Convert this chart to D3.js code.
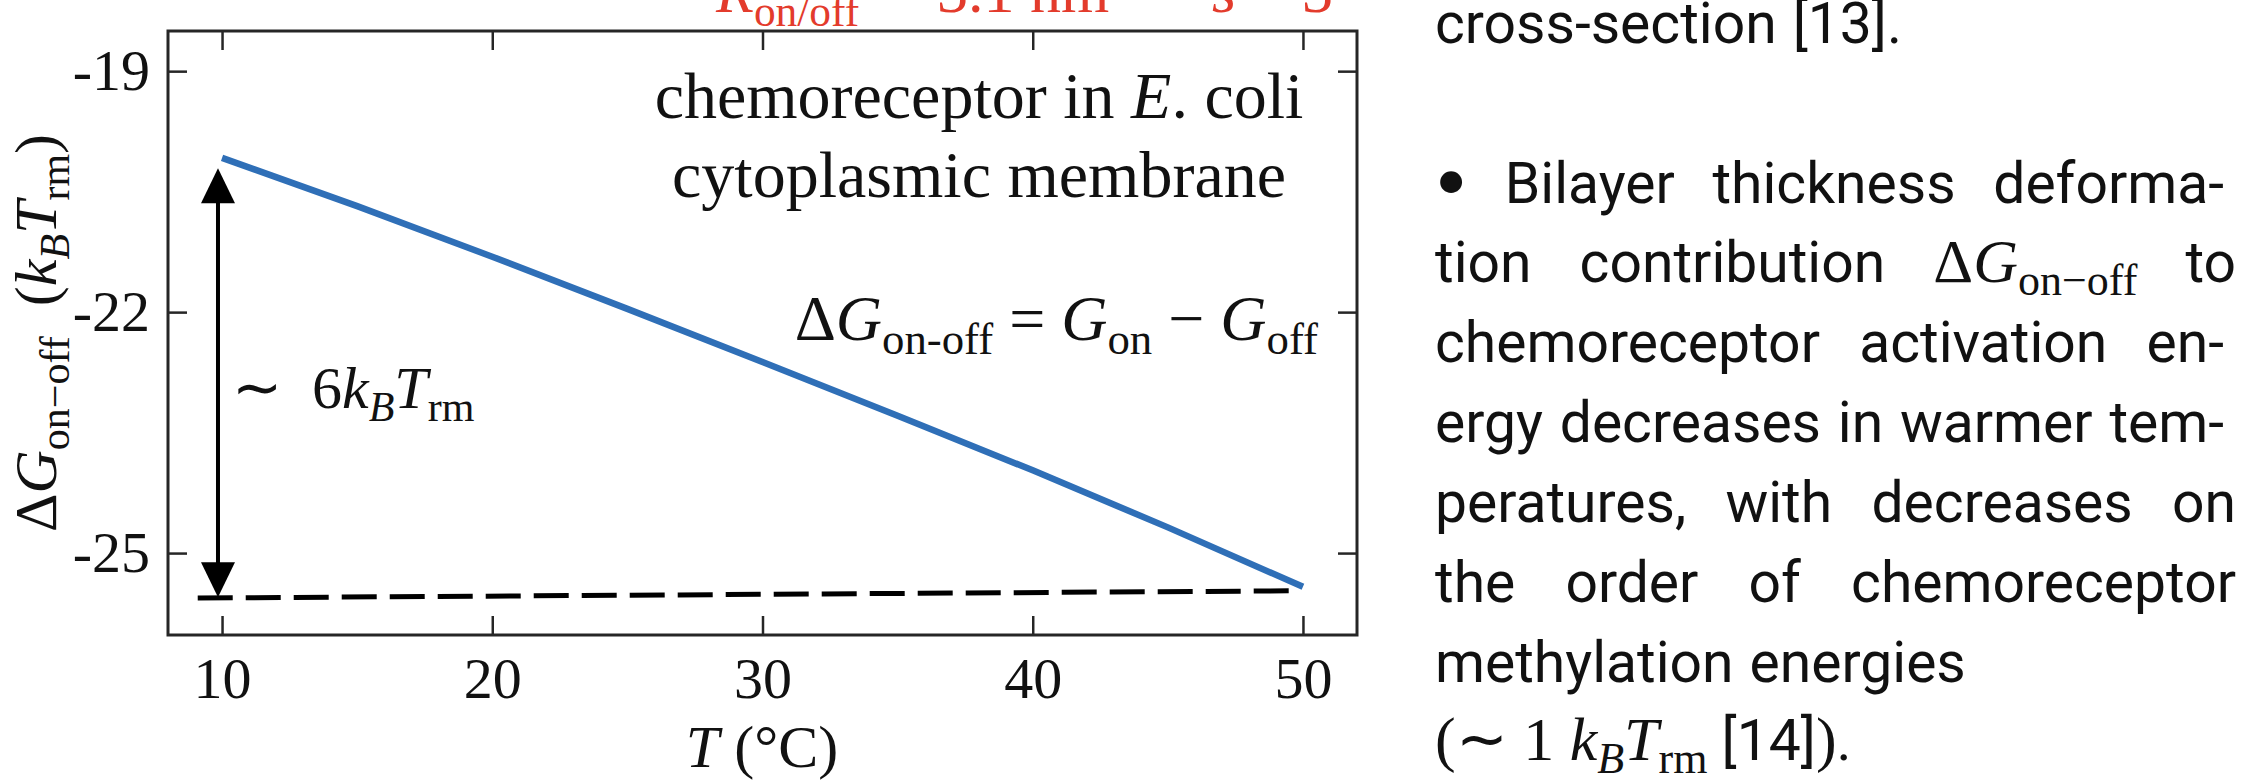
<!DOCTYPE html>
<html>
<head>
<meta charset="utf-8">
<script src="https://cdn.jsdelivr.net/npm/d3@7"></script>
<style>
  html, body { margin: 0; padding: 0; background: #fff; }
  svg { display: block; }
</style>
</head>
<body>
<svg id="fig" width="2250" height="782"></svg>
<script>
// Bilayer thickness deformation energy difference vs temperature
const temperatureC = [10, 15, 20, 25, 30, 35, 40, 45, 50];
const deltaGOnOff  = [-20.08, -20.68, -21.31, -21.96, -22.62, -23.29, -23.97, -24.68, -25.42];

const xTickValues = [10, 20, 30, 40, 50];
const yTickValues = [-19, -22, -25];
const xDomain = [8, 52];
const yDomain = [-26.02, -18.5];

// dashed reference level at the warm end
const referenceT = [9.1, 49.6];
const referenceG = [-25.56, -25.47];

// double arrow marking the total drop
const spanT = 9.85;
const spanG = [-20.21, -25.55];

const serif = "'Liberation Serif', 'Times New Roman', serif";
const sans  = "Roboto, 'Liberation Sans', Arial, sans-serif";
const ink = "#111";
const axisColor = "#262626";

const svg = d3.select("#fig");

const plot = { left: 168, right: 1357, top: 31, bottom: 635 };
const x = d3.scaleLinear().domain(xDomain).range([plot.left, plot.right]);
const y = d3.scaleLinear().domain(yDomain).range([plot.bottom, plot.top]);

// text with italic / subscript pieces
function richText(parent, segs, opts) {
  const size = opts.size;
  const t = parent.append("text")
    .attr("x", opts.x || 0).attr("y", opts.y || 0)
    .attr("text-anchor", opts.anchor || "start")
    .attr("fill", opts.fill || ink)
    .style("font-family", opts.family || serif)
    .style("font-size", size + "px");
  if (opts.transform) t.attr("transform", opts.transform);
  let shift = 0;
  segs.forEach(s => {
    const target = (s.sub ? size * 0.22 : 0) + (s.lift || 0);
    const ts = t.append("tspan").text(s.t).attr("dy", target - shift);
    shift = target;
    if (s.sub) ts.style("font-size", (size * 0.7) + "px");
    if (s.size) ts.style("font-size", s.size + "px");
    if (s.it) ts.style("font-style", "italic");
    if (s.family) ts.style("font-family", s.family);
    if (s.dx) ts.attr("dx", s.dx);
  });
  return t;
}

// ---- axes ----
function styleAxis(g) {
  g.select(".domain").remove();
  g.selectAll(".tick line").attr("stroke", axisColor).attr("stroke-width", 2.5);
  g.selectAll(".tick text").attr("fill", ink)
    .style("font-family", serif).style("font-size", "58px");
}
const fmt = d => String(d);

svg.append("g").attr("transform", `translate(0,${plot.bottom})`)
  .call(d3.axisBottom(x).tickValues(xTickValues).tickSize(-19).tickSizeOuter(0).tickPadding(22).tickFormat(fmt))
  .call(styleAxis);
svg.append("g").attr("transform", `translate(0,${plot.top})`)
  .call(d3.axisTop(x).tickValues(xTickValues).tickSize(-19).tickSizeOuter(0).tickFormat(""))
  .call(styleAxis);
svg.append("g").attr("transform", `translate(${plot.left},0)`)
  .call(d3.axisLeft(y).tickValues(yTickValues).tickSize(-19).tickSizeOuter(0).tickPadding(18).tickFormat(fmt))
  .call(styleAxis);
svg.append("g").attr("transform", `translate(${plot.right},0)`)
  .call(d3.axisRight(y).tickValues(yTickValues).tickSize(-19).tickSizeOuter(0).tickFormat(""))
  .call(styleAxis);

svg.append("rect")
  .attr("x", plot.left).attr("y", plot.top)
  .attr("width", plot.right - plot.left).attr("height", plot.bottom - plot.top)
  .attr("fill", "none").attr("stroke", axisColor).attr("stroke-width", 3);

// ---- dashed reference level ----
const refPts = referenceT.map((t, i) => [t, referenceG[i]]);
svg.append("path")
  .attr("d", d3.line().x(d => x(d[0])).y(d => y(d[1]))(refPts))
  .attr("fill", "none").attr("stroke", "#000").attr("stroke-width", 5)
  .attr("stroke-dasharray", "35,13");

// ---- energy curve ----
const curvePts = temperatureC.map((t, i) => [t, deltaGOnOff[i]]);
svg.append("path")
  .attr("d", d3.line().x(d => x(d[0])).y(d => y(d[1])).curve(d3.curveMonotoneX)(curvePts))
  .attr("fill", "none").attr("stroke", "#2f6fb7").attr("stroke-width", 6.5);

// ---- double arrow ----
const ax = x(spanT), ayTop = y(spanG[0]), ayBot = y(spanG[1]);
const headL = 35, headW = 17;
svg.append("line")
  .attr("x1", ax).attr("x2", ax).attr("y1", ayTop + headL - 2).attr("y2", ayBot - headL + 2)
  .attr("stroke", "#000").attr("stroke-width", 4);
svg.append("path")
  .attr("d", `M${ax},${ayTop} L${ax - headW},${ayTop + headL} L${ax + headW},${ayTop + headL} Z`)
  .attr("fill", "#000");
svg.append("path")
  .attr("d", `M${ax},${ayBot} L${ax - headW},${ayBot - headL} L${ax + headW},${ayBot - headL} Z`)
  .attr("fill", "#000");

// ---- annotations inside the plot ----
richText(svg, [
  { t: "\u223C" }, { t: "6", dx: 30 }, { t: "k", it: true }, { t: "B", it: true, sub: true },
  { t: "T", it: true }, { t: "rm", sub: true }
], { x: 232, y: 408, size: 60 });

richText(svg, [
  { t: "chemoreceptor in " }, { t: "E", it: true }, { t: ". coli" }
], { x: 979, y: 118, size: 66, anchor: "middle" });
richText(svg, [{ t: "cytoplasmic membrane" }], { x: 979, y: 197, size: 66, anchor: "middle" });

richText(svg, [
  { t: "\u0394" }, { t: "G", it: true }, { t: "on-off", sub: true },
  { t: " = " }, { t: "G", it: true }, { t: "on", sub: true },
  { t: " \u2212 " }, { t: "G", it: true }, { t: "off", sub: true }
], { x: 1318, y: 340, size: 64, anchor: "end" });

// ---- axis titles ----
richText(svg, [
  { t: "\u0394" }, { t: "G", it: true }, { t: "on\u2212off", sub: true },
  { t: "\u2002(" }, { t: "k", it: true }, { t: "B", it: true, sub: true },
  { t: "T", it: true }, { t: "rm", sub: true }, { t: ")" }
], { size: 60, anchor: "middle", transform: "translate(56,333) rotate(-90)" });

richText(svg, [
  { t: "T", it: true }, { t: " (\u00B0C)" }
], { x: 762, y: 767, size: 60, anchor: "middle" });

// ---- parameter line above the frame (mostly outside the canvas) ----
const red = "#e33b2c";
richText(svg, [
  { t: "R", it: true }, { t: "on/off", sub: true }, { t: " = 3.1 nm", dx: 12 }
], { x: 716, y: 12, size: 62, fill: red });
richText(svg, [
  { t: "s", it: true }, { t: " = 3" }
], { x: 1212, y: 12, size: 62, fill: red });

// ---- side text (justified paragraph) ----
const textLeft = 1435, textRight = 2236, hyphenRight = 2224;
const paraSize = 57;

function wordNode(segs) {
  return richText(svg, segs, { x: 0, y: 0, size: paraSize, family: sans });
}
function setLine(words, baseline, justify) {
  const nodes = words.map(w => wordNode(Array.isArray(w) ? w : [{ t: w }]));
  const widths = nodes.map(n => n.node().getComputedTextLength());
  const last = words[words.length - 1];
  const lastStr = Array.isArray(last) ? last.map(s => s.t).join("") : last;
  const right = lastStr.endsWith("-") ? hyphenRight : textRight;
  const total = d3.sum(widths);
  const gap = justify && nodes.length > 1 ? (right - textLeft - total) / (nodes.length - 1) : paraSize * 0.28;
  let cx = textLeft;
  nodes.forEach((n, i) => {
    n.attr("x", cx).attr("y", baseline);
    cx += widths[i] + gap;
  });
}

setLine(["cross-section", "[13]."], 43, false);
setLine([[{ t: "\u2022", family: serif, size: 92, lift: 9 }], "Bilayer", "thickness", "deforma-"], 203, true);
setLine(["tion", "contribution",
  [{ t: "\u0394", family: serif, size: 62 }, { t: "G", family: serif, it: true, size: 62 },
   { t: "on\u2212off", family: serif, sub: true, size: 44 }], "to"], 282, true);
setLine(["chemoreceptor", "activation", "en-"], 362, true);
setLine(["ergy", "decreases", "in", "warmer", "tem-"], 442, true);
setLine(["peratures,", "with", "decreases", "on"], 522, true);
setLine(["the", "order", "of", "chemoreceptor"], 602, true);
setLine(["methylation", "energies"], 682, false);
setLine([[{ t: "(\u223C 1 ", family: serif, size: 62 }, { t: "k", family: serif, it: true, size: 62 },
          { t: "B", family: serif, it: true, sub: true, size: 44 },
          { t: "T", family: serif, it: true, size: 62 },
          { t: "rm", family: serif, sub: true, size: 44 },
          { t: " [14]" }, { t: ")", family: serif, size: 62 }, { t: "." }]], 760, false);
</script>
</body>
</html>
